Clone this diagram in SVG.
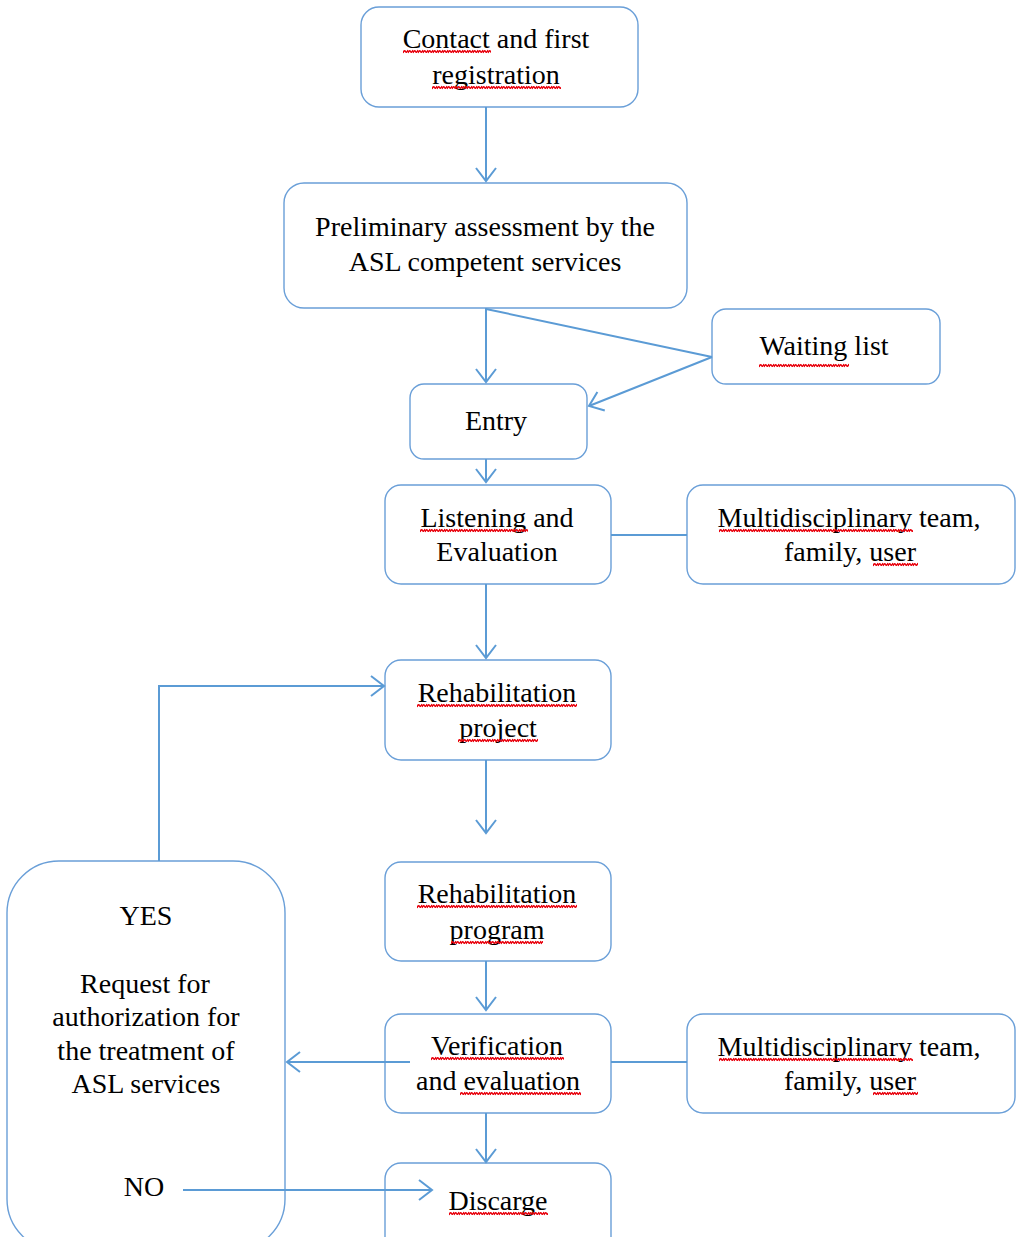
<svg xmlns="http://www.w3.org/2000/svg" width="1022" height="1237" viewBox="0 0 1022 1237">
<style>
.box{fill:#fff;stroke:#6a9fd8;stroke-width:1.4}
.t{font-family:"Liberation Serif","Times New Roman",serif;font-size:28px;fill:#000;text-anchor:middle}
.c{fill:none;stroke:#5b9bd5;stroke-width:2}
.sq{fill:url(#squig)}
</style>
<defs>
<marker id="ah" viewBox="-15 -12 17 24" refX="0" refY="0" markerWidth="17" markerHeight="24" markerUnits="userSpaceOnUse" orient="auto">
<path d="M-13,-10 L0,0 L-13,10" fill="none" stroke="#5b9bd5" stroke-width="2"/>
</marker>
<pattern id="squig" patternUnits="userSpaceOnUse" width="5" height="5">
<path d="M0,4 Q1.25,0.5 2.5,2.5 T5,1" fill="none" stroke="#e8000b" stroke-width="1.5"/>
</pattern>
</defs>
<rect width="1022" height="1237" fill="#fff"/>
<g id="contact">
<rect class="box" x="361" y="7" width="277" height="100" rx="18"/>
<text class="t" x="496" y="48">Contact and first</text>
<text class="t" x="496" y="84">registration</text>
<rect class="sq" transform="translate(403,49)" width="88" height="5"/>
<rect class="sq" transform="translate(432,85)" width="129" height="5"/>
</g>
<g id="preliminary">
<rect class="box" x="284" y="183" width="403" height="125" rx="20"/>
<text class="t" x="485" y="236">Preliminary assessment by the</text>
<text class="t" x="485" y="271">ASL competent services</text>
</g>
<g id="waiting">
<rect class="box" x="712" y="309" width="228" height="75" rx="14"/>
<text class="t" x="824" y="355">Waiting list</text>
<rect class="sq" transform="translate(759,363)" width="90" height="5"/>
</g>
<g id="entry">
<rect class="box" x="410" y="384" width="177" height="75" rx="14"/>
<text class="t" x="496" y="430">Entry</text>
</g>
<g id="listening">
<rect class="box" x="385" y="485" width="226" height="99" rx="16"/>
<text class="t" x="497" y="527">Listening and</text>
<text class="t" x="497" y="561">Evaluation</text>
<rect class="sq" transform="translate(420,528)" width="108" height="5"/>
</g>
<g id="team1">
<rect class="box" x="687" y="485" width="328" height="99" rx="16"/>
<text class="t" x="849" y="527">Multidisciplinary team,</text>
<text class="t" x="850" y="561">family, user</text>
<rect class="sq" transform="translate(719,528)" width="194" height="5"/>
<rect class="sq" transform="translate(873,562)" width="45" height="5"/>
</g>
<g id="project">
<rect class="box" x="385" y="660" width="226" height="100" rx="16"/>
<text class="t" x="497" y="702">Rehabilitation</text>
<text class="t" x="498" y="737">project</text>
<rect class="sq" transform="translate(417,703)" width="160" height="5"/>
<rect class="sq" transform="translate(458,738)" width="80" height="5"/>
</g>
<g id="program">
<rect class="box" x="385" y="862" width="226" height="99" rx="16"/>
<text class="t" x="497" y="903">Rehabilitation</text>
<text class="t" x="497" y="939">program</text>
<rect class="sq" transform="translate(417,904)" width="160" height="5"/>
<rect class="sq" transform="translate(451,940)" width="92" height="5"/>
</g>
<g id="verification">
<rect class="box" x="385" y="1014" width="226" height="99" rx="16"/>
<text class="t" x="497" y="1055">Verification</text>
<text class="t" x="498" y="1090">and evaluation</text>
<rect class="sq" transform="translate(431,1056)" width="133" height="5"/>
<rect class="sq" transform="translate(460,1091)" width="121" height="5"/>
</g>
<g id="team2">
<rect class="box" x="687" y="1014" width="328" height="99" rx="16"/>
<text class="t" x="849" y="1056">Multidisciplinary team,</text>
<text class="t" x="850" y="1090">family, user</text>
<rect class="sq" transform="translate(719,1057)" width="194" height="5"/>
<rect class="sq" transform="translate(873,1091)" width="45" height="5"/>
</g>
<g id="request">
<rect class="box" x="7" y="861" width="278" height="390" rx="52"/>
<text class="t" x="146" y="925">YES</text>
<text class="t" x="145" y="993">Request for</text>
<text class="t" x="146" y="1026">authorization for</text>
<text class="t" x="146" y="1060">the treatment of</text>
<text class="t" x="146" y="1093">ASL services</text>
<text class="t" x="144" y="1196">NO</text>
</g>
<g id="discharge">
<rect class="box" x="385" y="1163" width="226" height="99" rx="16"/>
<text class="t" x="498" y="1210">Discarge</text>
<rect class="sq" transform="translate(449,1211)" width="99" height="5"/>
</g>
<g id="connectors">
<path class="c" d="M486,107 V181" marker-end="url(#ah)"/>
<path class="c" d="M486,308 V382" marker-end="url(#ah)"/>
<path class="c" d="M486,309 L712,357"/>
<path class="c" d="M712,357 L589,406" marker-end="url(#ah)"/>
<path class="c" d="M486,459 V482" marker-end="url(#ah)"/>
<path class="c" d="M611,535 H687"/>
<path class="c" d="M486,584 V658" marker-end="url(#ah)"/>
<path class="c" d="M159,861 V686 H384" marker-end="url(#ah)"/>
<path class="c" d="M486,760 V833" marker-end="url(#ah)"/>
<path class="c" d="M486,961 V1010" marker-end="url(#ah)"/>
<path class="c" d="M611,1062 H687"/>
<path class="c" d="M410,1062 H287" marker-end="url(#ah)"/>
<path class="c" d="M486,1113 V1162" marker-end="url(#ah)"/>
<path class="c" d="M183,1190 H432" marker-end="url(#ah)"/>
</g>
</svg>
